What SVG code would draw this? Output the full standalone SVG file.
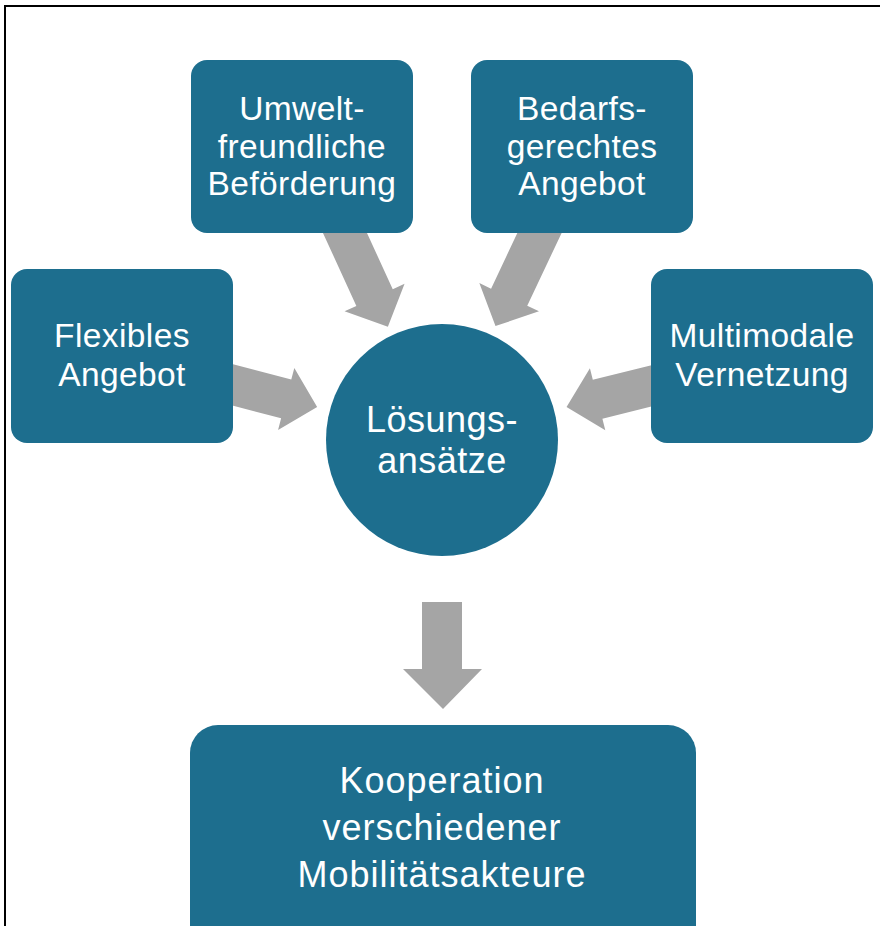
<svg xmlns="http://www.w3.org/2000/svg" width="880" height="926" viewBox="0 0 880 926">
<style>
.node{fill:#1d6e8e}
.arr{fill:#a5a5a5}
.t{font-family:"Liberation Sans",Arial,sans-serif;fill:#ffffff;text-anchor:middle;font-size:33.5px;letter-spacing:0.4px}
.tc{font-size:36px;letter-spacing:0.5px}
.tb{font-size:36px;letter-spacing:1px}
</style>
<defs>
<polygon id="arrowDiag" points="-20,-20 71,-20 71,-33 103,0 71,33 71,20 -20,20"/>
<polygon id="arrowSide" points="-20,-20 55,-20 55,-32 87,0 55,32 55,20 -20,20"/>
</defs>
<rect x="0" y="0" width="880" height="926" fill="#ffffff"/>
<path d="M5,930 V6 H885" fill="none" stroke="#000000" stroke-width="2"/>
<g id="connectors">
<use href="#arrowDiag" class="arr" transform="translate(345,233) rotate(65.4)"/>
<use href="#arrowDiag" class="arr" transform="translate(539.5,233) rotate(115.3)"/>
<use href="#arrowSide" class="arr" transform="translate(233,385) rotate(14.7)"/>
<use href="#arrowSide" class="arr" transform="translate(651,386) rotate(166.1)"/>
<polygon class="arr" points="422,602 462,602 462,669 482,669 443,709 403,669 422,669"/>
</g>
<g id="node-umwelt">
<rect class="node" x="191" y="60" width="222" height="173" rx="16"/>
<text class="t" x="302" y="120">Umwelt-</text>
<text class="t" x="302" y="158">freundliche</text>
<text class="t" x="302" y="195">Beförderung</text>
</g>
<g id="node-bedarf">
<rect class="node" x="471" y="60" width="222" height="173" rx="16"/>
<text class="t" x="582" y="120">Bedarfs-</text>
<text class="t" x="582" y="158">gerechtes</text>
<text class="t" x="582" y="195">Angebot</text>
</g>
<g id="node-flexibel">
<rect class="node" x="11" y="269" width="222" height="174" rx="16"/>
<text class="t" x="122" y="347">Flexibles</text>
<text class="t" x="122" y="386">Angebot</text>
</g>
<g id="node-multimodal">
<rect class="node" x="651" y="269" width="222" height="174" rx="16"/>
<text class="t" x="762" y="347">Multimodale</text>
<text class="t" x="762" y="386">Vernetzung</text>
</g>
<g id="node-loesung">
<circle class="node" cx="442" cy="440" r="116"/>
<text class="t tc" x="442" y="432">Lösungs-</text>
<text class="t tc" x="442" y="473">ansätze</text>
</g>
<g id="node-kooperation">
<rect class="node" x="190" y="725" width="506" height="240" rx="28"/>
<text class="t tb" x="442" y="793">Kooperation</text>
<text class="t tb" x="442" y="840">verschiedener</text>
<text class="t tb" x="442" y="887">Mobilitätsakteure</text>
</g>
</svg>
